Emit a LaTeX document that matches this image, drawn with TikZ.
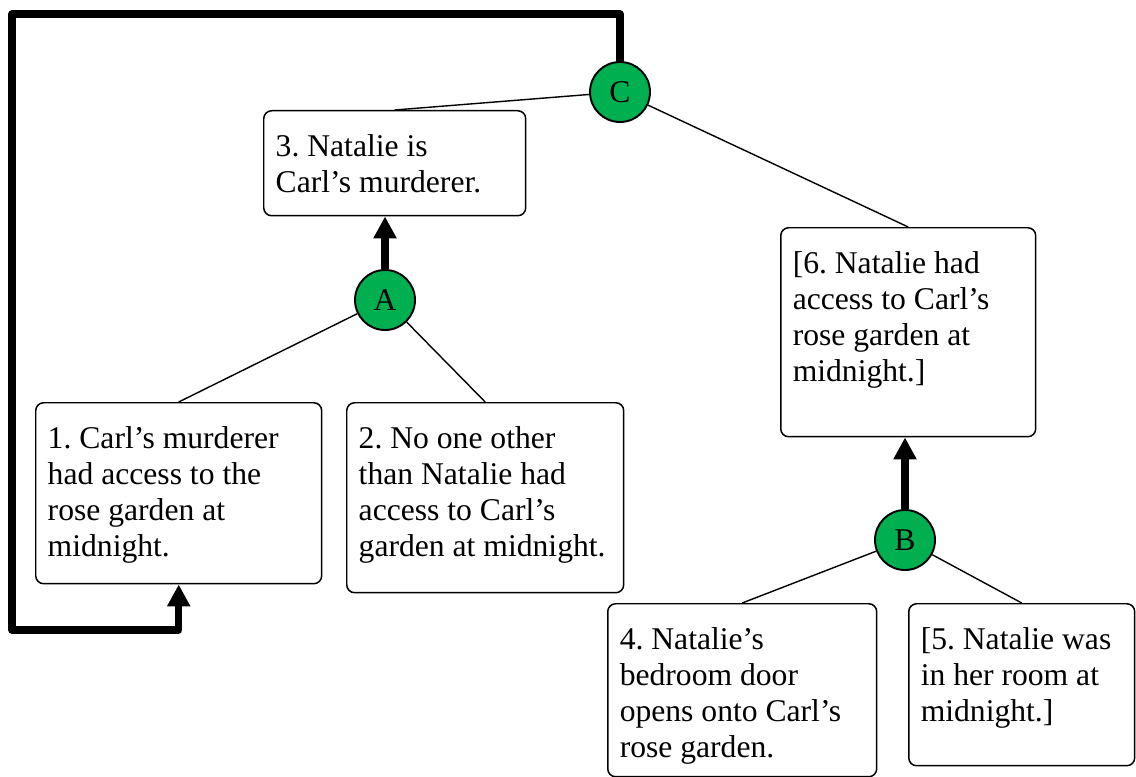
\documentclass[tikz,border=0pt]{standalone}
\usepackage{fontspec}
\setmainfont{Liberation Serif}
\usetikzlibrary{arrows.meta}
\definecolor{argreen}{RGB}{0,176,80}
\frenchspacing
\newcommand{\claimtext}[3]{\parbox[c][#2][t]{\dimexpr#1-0.48cm\relax}{\raggedright\vspace*{0.48cm}#3}}
\tikzset{
  %% ---- boxes ----
  claim/.style   = {rectangle, rounded corners=4.5pt,
                    draw=black, line width=0.85pt, fill=white,
                    anchor=north west, inner xsep=0.24cm, inner ysep=0pt,
                    font=\fontsize{18}{20.4}\selectfont},
  joint/.style   = {circle, draw=black, line width=1.1pt, fill=argreen,
                    minimum size=1.2cm, inner sep=0pt,
                    font=\fontsize{18}{20}\selectfont},
  %% ---- lines ----
  wire/.style    = {line width=0.8pt},
  support/.style = {-{Triangle[length=0.44cm,width=0.44cm]},
                    line width=4pt, line join=round},
}
\begin{document}
\begin{tikzpicture}[x=0.02cm, y=-0.02cm]
\useasboundingbox (0,0) rectangle (1136,777);
\node[claim] (n3) at (263,110) {\claimtext{5.24cm}{2.10cm}{3. Natalie is\\Carl’s murderer.}};
\node[claim] (n1) at (35,402)  {\claimtext{5.72cm}{3.62cm}{1. Carl’s murderer\\had access to the\\rose garden at\\midnight.}};
\node[claim] (n2) at (346,402) {\claimtext{5.54cm}{3.80cm}{2. No one other\\than Natalie had\\access to Carl’s\\garden at midnight.}};
\node[claim] (n6) at (780,227) {\claimtext{5.10cm}{4.18cm}{[6. Natalie had\\access to Carl’s\\rose garden at\\midnight.]}};
\node[claim] (n4) at (607,603) {\claimtext{5.38cm}{3.46cm}{4. Natalie’s\\bedroom door\\opens onto Carl’s\\rose garden.}};
\node[claim] (n5) at (908,603) {\claimtext{4.52cm}{3.24cm}{[5. Natalie was\\in her room at\\midnight.]}};

\node[joint] (C) at (620,92)  {C};
\node[joint] (A) at (385,300) {A};
\node[joint] (B) at (905,540) {B};

\coordinate (loopTL) at (12,14);
\coordinate (loopBL) at (12,630);

\draw[wire] (C) -- (n3.north);
\draw[wire] (C) -- (n6.north);
\draw[wire] (A) -- (n1.north);
\draw[wire] (A) -- (n2.north);
\draw[wire] (B) -- (n4.north);
\draw[wire] (B) -- (n5.north);

\draw[support] (A.north) -- (A |- n3.south);
\draw[support] (B.north) -- (B |- n6.south);
\draw[support] (C.north) |- (loopTL) -- (loopBL) -| (n1.south);
\end{tikzpicture}
\end{document}
